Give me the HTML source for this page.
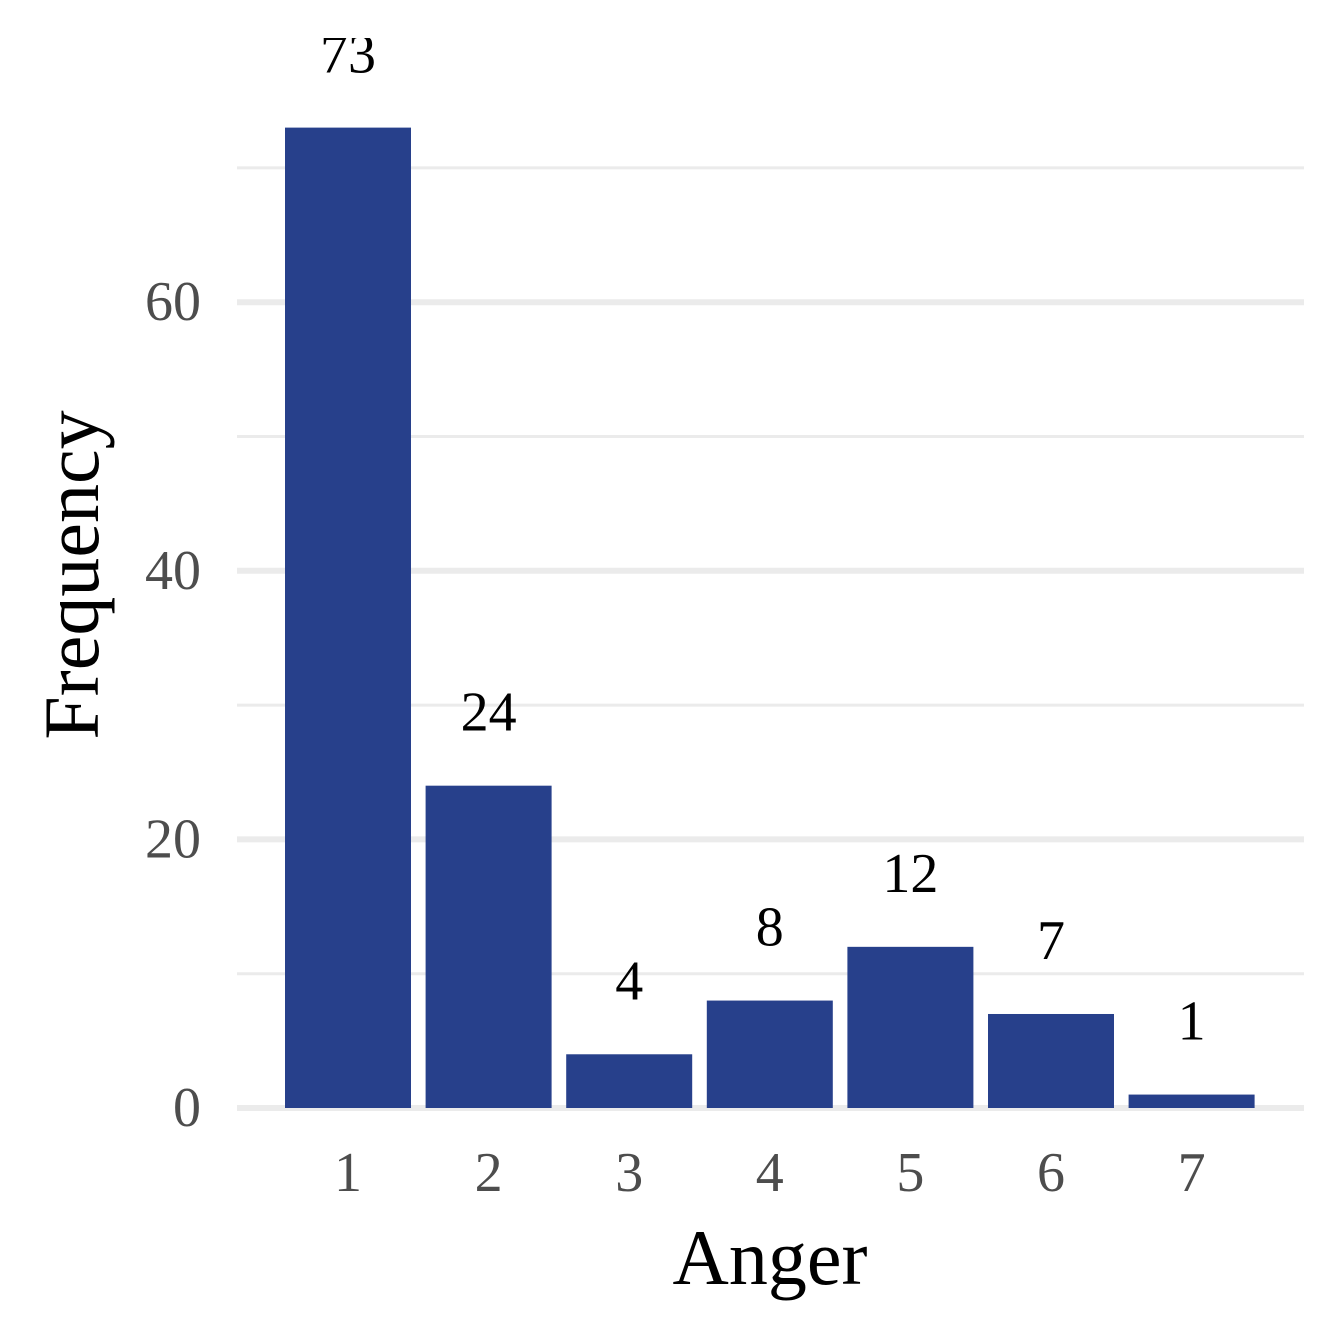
<!DOCTYPE html>
<html><head><meta charset="utf-8"><style>
html,body{margin:0;padding:0;background:#fff;}
svg{display:block;font-family:"Liberation Serif",serif;}
</style></head><body>
<svg id="chart" width="1344" height="1344" viewBox="0 0 1344 1344" xmlns="http://www.w3.org/2000/svg">
<defs><clipPath id="clip"><rect x="0" y="38" width="1344" height="1306"/></clipPath></defs>
<rect width="1344" height="1344" fill="#fff"/>
<g id="grid"></g>
<g id="bars"></g>
<g id="labels" clip-path="url(#clip)"></g>
<g id="yticks"></g>
<g id="xticks"></g>
<text x="770" y="1284" font-size="78" text-anchor="middle" fill="#000">Anger</text>
<text x="0" y="0" transform="translate(98,575) rotate(-90)" font-size="78" text-anchor="middle" fill="#000">Frequency</text>
</svg>
<script>
const categories = ["1","2","3","4","5","6","7"];
const values = [73,24,4,8,12,7,1];
const yTicks = [0,20,40,60];
const yMinor = [10,30,50,70];
const NS = "http://www.w3.org/2000/svg";
function y(v){ return 1108 - v*13.43; }
function x(i){ return 348 + i*140.6; }
const BW = 126;
function mk(tag, attrs, parent){ const e=document.createElementNS(NS,tag); for(const k in attrs) e.setAttribute(k,attrs[k]); parent.appendChild(e); return e; }
const grid=document.getElementById('grid'), bars=document.getElementById('bars'), labels=document.getElementById('labels'), yt=document.getElementById('yticks'), xt=document.getElementById('xticks');
yMinor.forEach(v=>{
  const l=mk('line',{x1:237,x2:1304,y1:y(v),y2:y(v),stroke:'#ebebeb','stroke-width':3},grid);
  
  
});
yTicks.forEach(v=>{
  const l=mk('line',{x1:237,x2:1304,y1:y(v),y2:y(v),stroke:'#ebebeb','stroke-width':6},grid);
  
  
  const t=mk('text',{x:201,y:y(v)+18,'font-size':56,'text-anchor':'end',fill:'#4d4d4d'},yt);
  t.textContent=v;
  
  
});
categories.forEach((c,i)=>{
  const v=values[i];
  const r=mk('rect',{x:x(i)-BW/2,y:y(v),width:BW,height:y(0)-y(v),fill:'#27408B'},bars);
  
  
  const t=mk('text',{x:x(i),y:y(v)-55,'font-size':56,'text-anchor':'middle',fill:'#000'},labels);
  t.textContent=v;
  
  
  const xl=mk('text',{x:x(i),y:1191,'font-size':56,'text-anchor':'middle',fill:'#4d4d4d'},xt);
  xl.textContent=c;
  
  
});
</script>
</body></html>
